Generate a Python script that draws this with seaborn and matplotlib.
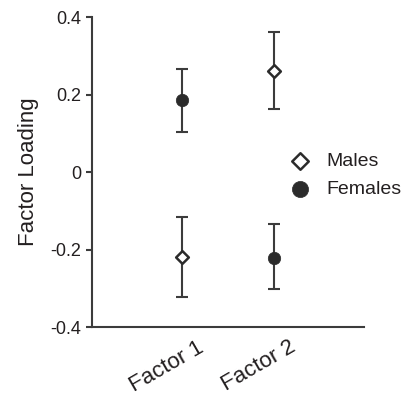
import numpy as np
import pandas as pd
import seaborn as sns
import matplotlib
matplotlib.use("Agg")
import matplotlib.pyplot as plt
import matplotlib.transforms as mtransforms

factors = ["Factor 1", "Factor 2"]
male_loading = [-0.219, 0.262]
male_low = [-0.323, 0.163]
male_high = [-0.115, 0.362]
female_loading = [0.185, -0.221]
female_low = [0.102, -0.303]
female_high = [0.266, -0.134]
yticks = [-0.4, -0.2, 0, 0.2, 0.4]
ytick_labels = ["-0.4", "-0.2", "0", "0.2", "0.4"]

sns.set_theme(style="ticks")
plt.rcParams["font.family"] = ["Liberation Sans", "DejaVu Sans"]

dark = "#2b2b2b"
axis_col = "#3c3c3c"

fig = plt.figure(figsize=(4.04, 3.97), dpi=100)
ax = fig.add_axes([0.2277, 0.1763, 0.673, 0.7808])

males = pd.DataFrame({"factor": factors, "loading": male_loading,
                      "low": male_low, "high": male_high})
females = pd.DataFrame({"factor": factors, "loading": female_loading,
                        "low": female_low, "high": female_high})

for df in (males, females):
    ax.errorbar(df["factor"], df["loading"],
                yerr=[df["loading"] - df["low"], df["high"] - df["loading"]],
                fmt="none", ecolor=axis_col, elinewidth=1.5, capsize=4.5,
                capthick=1.5, zorder=2)

sns.scatterplot(data=males, x="factor", y="loading", marker="D", s=42,
                color="white", edgecolor=dark, linewidth=1.8, ax=ax,
                label="Males", zorder=3)
sns.scatterplot(data=females, x="factor", y="loading", marker="o", s=80,
                color=dark, edgecolor=dark, linewidth=0.5, ax=ax,
                label="Females", zorder=3)

ax.set_xlim(-0.98, 1.98)
ax.set_ylim(-0.4, 0.4)
ax.set_yticks(yticks)
ax.set_yticklabels(ytick_labels)
ax.set_xlabel("")
ax.set_ylabel("Factor Loading", fontsize=16, color="#231f20", labelpad=8)

sns.despine(ax=ax)
for sp in ("left", "bottom"):
    ax.spines[sp].set_color(axis_col)
    ax.spines[sp].set_linewidth(1.5)

ax.tick_params(axis="y", length=4.5, width=1.5, color=axis_col,
               labelsize=13, labelcolor="#231f20", pad=3.5)
ax.tick_params(axis="x", length=0, labelsize=16, labelcolor="#231f20", pad=7)

offset = mtransforms.ScaledTranslation(0.15, 0, fig.dpi_scale_trans)
for lab in ax.get_xticklabels():
    lab.set_rotation(30)
    lab.set_ha("right")
    lab.set_va("top")
    lab.set_rotation_mode("anchor")
    lab.set_transform(lab.get_transform() + offset)

leg = ax.legend(frameon=False, loc="center left", bbox_to_anchor=(0.70, 0.49),
                fontsize=14, handlelength=1.0, handletextpad=0.85,
                labelspacing=0.55, borderaxespad=0, markerscale=1.3)
for t in leg.get_texts():
    t.set_color("#231f20")

fig.savefig("out.png", dpi=100)
